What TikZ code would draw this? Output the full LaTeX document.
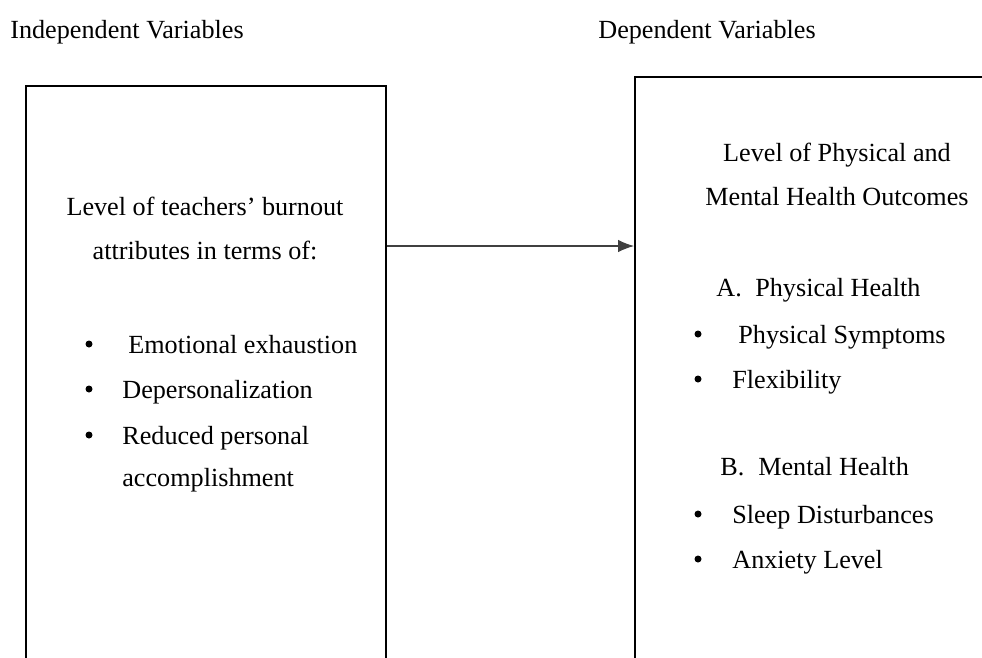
\documentclass[tikz,border=0pt]{standalone}
\usepackage{fontspec}
\setmainfont{Liberation Serif}
\usetikzlibrary{arrows.meta}

\begin{document}
\begin{tikzpicture}[x=0.02cm, y=-0.02cm, font=\fontsize{14.9}{18}\selectfont,
	txt/.style={inner sep=0pt, anchor=base west},
	ctxt/.style={inner sep=0pt, anchor=base},
	dot/.style={circle, fill, inner sep=0pt, minimum size=0.14cm},
	varbox/.style={draw, line width=1pt, rectangle, anchor=north west}]
	
	\useasboundingbox (0,0) rectangle (982,657);
	\clip (0,0) rectangle (982,657);
	
	% titles
	\node[txt] (indeptitle) at (10,38) {Independent Variables};
	\node[txt] (deptitle) at (598,38) {Dependent Variables};
	
	% the two boxes (cut off at the page edge)
	\node[varbox, minimum width=7.2cm, minimum height=12.3cm] (indep) at (25,85) {};
	\node[varbox, minimum width=7.8cm, minimum height=12.5cm] (depen) at (634,76) {};
	
	\coordinate (arrowlvl) at (0,246);
	\draw[-{Latex[length=9pt,width=7pt]}, line width=0.6pt, black!75] (indep.east |- arrowlvl) -- (depen.west |- arrowlvl);
	
	% independent side
	\node[ctxt] (burnoutA) at (205,215) {Level of teachers’ burnout};
	\node[ctxt] (burnoutB) at (205,259) {attributes in terms of:};
	\node[dot] (bulletA) at (89,344) {};
	\node[txt] (emotional) at (128,353) {Emotional exhaustion};
	\node[dot] (bulletB) at (89,389) {};
	\node[txt] (depers) at (122,398) {Depersonalization};
	\node[dot] (bulletC) at (89,435) {};
	\node[txt] (reduced) at (122,444) {Reduced personal};
	\node[txt] (accomp) at (122,486) {accomplishment};
	
	% dependent side
	\node[ctxt] (outcomeA) at (837,161) {Level of Physical and};
	\node[ctxt] (outcomeB) at (837,205) {Mental Health Outcomes};
	\node[txt] (physical) at (716,296) {\makebox[0.78cm][l]{A.}Physical Health};
	\node[dot] (bulletD) at (698,334) {};
	\node[txt] (symptoms) at (738,343) {Physical Symptoms};
	\node[dot] (bulletE) at (698,379) {};
	\node[txt] (flex) at (732,388) {Flexibility};
	\node[txt] (mental) at (720,475) {\makebox[0.76cm][l]{B.}Mental Health};
	\node[dot] (bulletF) at (698,514) {};
	\node[txt] (sleep) at (732,523) {Sleep Disturbances};
	\node[dot] (bulletG) at (698,559) {};
	\node[txt] (anxiety) at (732,568) {Anxiety Level};
	
\end{tikzpicture}
\end{document}
